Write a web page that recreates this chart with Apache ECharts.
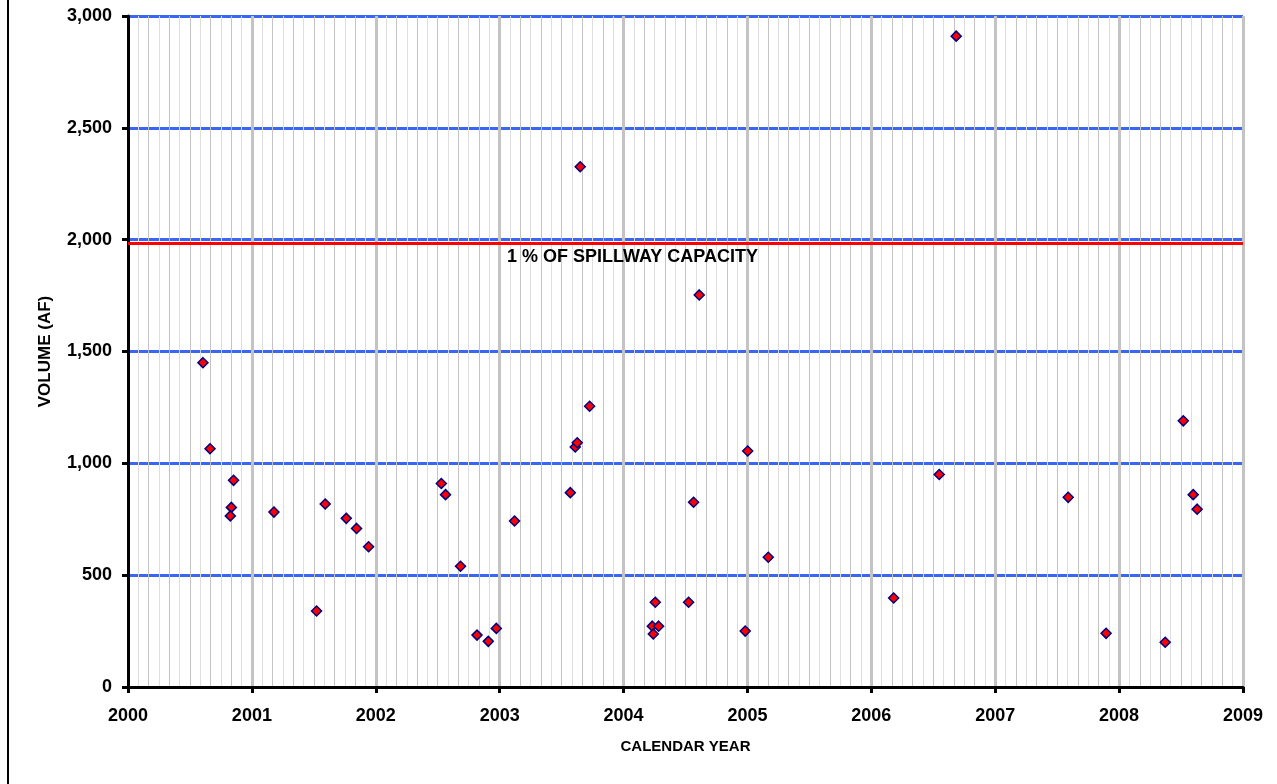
<!DOCTYPE html>
<html>
<head>
<meta charset="utf-8">
<script src="https://cdn.jsdelivr.net/npm/echarts@6/dist/echarts.min.js"></script>
<style>
html,body{margin:0;padding:0;background:#fff;}
#chart{width:1277px;height:784px;}
</style>
</head>
<body>
<div id="chart"></div>
<script>
// ---- data ----
const eventYears = [
  2000.605, 2000.662, 2000.852, 2000.834, 2000.826, 2001.178, 2001.522, 2001.592,
  2001.762, 2001.845, 2001.942, 2002.529, 2002.563, 2002.684, 2002.817, 2002.908,
  2002.973, 2003.120, 2003.570, 2003.610, 2003.626, 2003.650, 2003.726, 2004.256,
  2004.232, 2004.283, 2004.240, 2004.525, 2004.565, 2004.611, 2004.982, 2005.002,
  2005.168, 2006.180, 2006.548, 2006.685, 2007.589, 2007.895, 2008.372, 2008.518,
  2008.598, 2008.630
];
const eventVolumes = [
  1450, 1065, 924, 803, 765, 782, 340, 818,
  754, 709, 627, 910, 860, 540, 232, 204,
  262, 742, 869, 1073, 1092, 2326, 1255, 379,
  272, 272, 237, 379, 826, 1753, 250, 1055,
  580, 398, 950, 2910, 848, 240, 200, 1190,
  860, 795
];
const spillwayOnePercent = 1982;
const spillwayLabel = '1 % OF SPILLWAY CAPACITY';
const xTitle = 'CALENDAR YEAR';
const yTitle = 'VOLUME (AF)';
const yearMin = 2000, yearMax = 2009;
const volMin = 0, volMax = 3000, volStep = 500;
const monthsTotal = (yearMax - yearMin) * 12;

const points = eventYears.map((y, i) => [y, eventVolumes[i]]);

const FONT = '"Liberation Sans", Arial, sans-serif';
const chart = echarts.init(document.getElementById('chart'), null, {renderer: 'canvas'});
chart.setOption({
  animation: false,
  backgroundColor: '#fff',
  grid: {left: 128, right: 34, top: 16, bottom: 97, show: true, borderColor: '#8a8a8a', borderWidth: 1},
  xAxis: [
    {
      type: 'value', min: yearMin, max: yearMax, interval: 1, position: 'bottom',
      axisLine: {show: true, onZero: false, lineStyle: {color: '#000', width: 3}},
      axisTick: {show: true, length: 6, lineStyle: {color: '#000', width: 3}},
      axisLabel: {color: '#000', fontWeight: 'bold', fontSize: 18, fontFamily: FONT, margin: 20,
        formatter: v => String(v)},
      splitLine: {show: true, lineStyle: {color: '#c3c3c3', width: 3}},
      name: xTitle, nameLocation: 'middle', nameGap: 52,
      nameTextStyle: {color: '#000', fontWeight: 'bold', fontSize: 15, fontFamily: FONT}
    },
    {
      type: 'value', min: 0, max: monthsTotal, interval: 1, position: 'top',
      axisLine: {show: false}, axisTick: {show: false}, axisLabel: {show: false},
      splitLine: {show: true, lineStyle: {color: ['#c4c4c4', '#dedede'], width: 1}}
    }
  ],
  yAxis: {
    type: 'value', min: volMin, max: volMax, interval: volStep,
    axisLine: {show: true, onZero: false, lineStyle: {color: '#000', width: 3}},
    axisTick: {show: true, length: 6, lineStyle: {color: '#000', width: 3}},
    axisLabel: {color: '#000', fontWeight: 'bold', fontSize: 18, fontFamily: FONT, margin: 16,
      formatter: v => v.toLocaleString('en-US')},
    splitLine: {show: true, lineStyle: {color: '#3a66f2', width: 3}},
    name: yTitle, nameLocation: 'middle', nameGap: 74,
    nameTextStyle: {color: '#000', fontWeight: 'bold', fontSize: 17, fontFamily: FONT}
  },
  series: [{
    type: 'scatter',
    xAxisIndex: 0, yAxisIndex: 0,
    data: points,
    symbol: 'diamond',
    symbolSize: 10,
    itemStyle: {color: '#ff0000', borderColor: '#000080', borderWidth: 1.5, opacity: 1},
    z: 5,
    markLine: {
      silent: true,
      symbol: ['none', 'none'],
      lineStyle: {color: '#ff0000', width: 3, type: 'solid'},
      label: {
        show: true, position: 'insideStartBottom', formatter: spillwayLabel,
        color: '#000', fontWeight: 'bold', fontSize: 18, fontFamily: FONT,
        padding: [0, 0, 0, 375], distance: 4
      },
      data: [{yAxis: spillwayOnePercent}]
    }
  }],
  graphic: [{
    type: 'line', shape: {x1: 8, y1: 0, x2: 8, y2: 784},
    style: {stroke: '#000', lineWidth: 2}, z: 10
  }]
});
</script>
</body>
</html>
